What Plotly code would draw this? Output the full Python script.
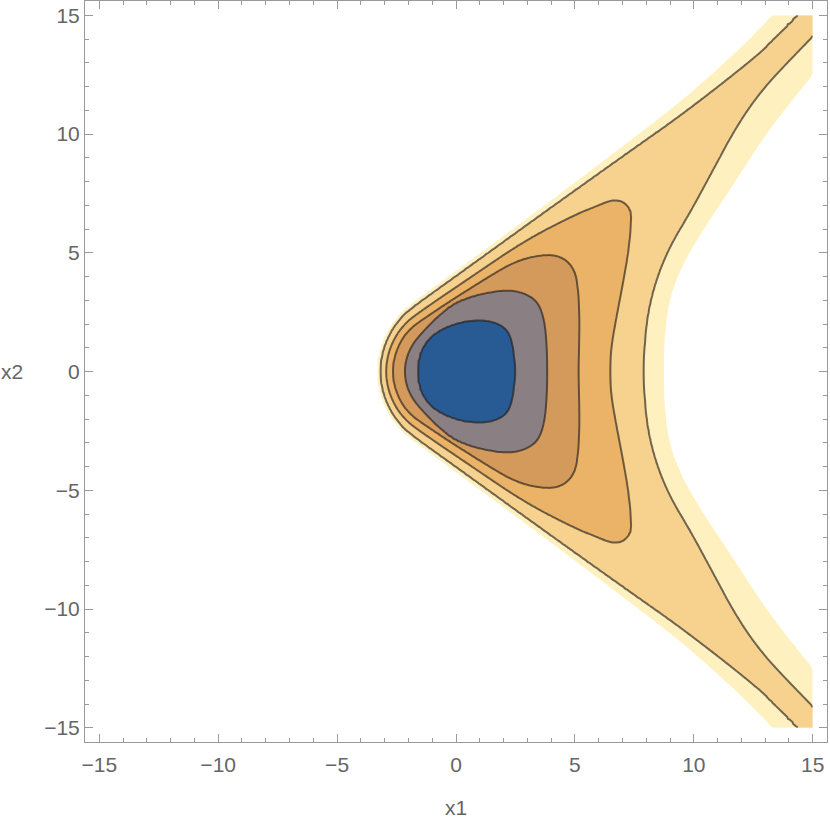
import numpy as np
import plotly.graph_objects as go

# contour curves, upper half only (the plot is mirror symmetric in x2)
# each runs from its x2 = 0 crossing on the right, over the top, to the crossing on the left
c1_x1 = [2.50, 2.48, 2.38, 2.17, 1.75, 1.19, 0.48, -0.22, -0.92, -1.41, -1.58, -1.62]
c1_x2 = [0.00, 0.35, 1.19, 1.75, 2.03, 2.17, 2.14, 1.96, 1.61, 1.05, 0.50, 0.00]

c2_x1 = [3.84, 3.82, 3.72, 3.44, 2.88, 2.17, 1.19, 0.50, -0.22, -0.92, -1.55, -1.85, -2.08, -2.17]
c2_x2 = [0.00, 1.05, 2.17, 2.94, 3.30, 3.44, 3.30, 3.12, 2.80, 2.17, 1.50, 1.10, 0.60, 0.00]

c3_x1 = [5.15, 5.18, 5.19, 5.12, 4.98, 4.56, 3.86, 2.59, 1.26, -1.53, -2.00, -2.34, -2.59, -2.68]
c3_x2 = [0.00, 1.20, 2.45, 3.58, 4.28, 4.77, 4.95, 4.70, 3.93, 2.12, 1.73, 1.27, 0.65, 0.00]

c4_x1 = [6.48, 6.52, 6.75, 7.05, 7.27, 7.37, 7.33, 7.15, 6.85, 6.46, 5.89, 5.05, 2.94, 0.56,
         -1.69, -2.18, -2.57, -2.86, -2.96]
c4_x2 = [0.00, 1.00, 2.30, 3.86, 5.20, 6.45, 6.75, 7.05, 7.20, 7.19, 6.95, 6.62, 5.54, 3.93,
         2.40, 1.98, 1.45, 0.75, 0.00]

c5_x1 = [7.89, 7.93, 8.07, 8.42, 8.99, 9.83, 10.50, 11.94, 13.34, 15.00, 17.50,
         14.27, 13.50, 12.64, 9.83, 7.02, 3.65, -0.15, -1.81, -2.31, -2.76, -3.10, -3.21]
c5_x2 = [0.00, 1.05, 2.45, 3.86, 5.26, 6.67, 7.90, 10.60, 12.43, 14.00, 17.50,
         15.00, 14.10, 13.28, 11.06, 9.08, 6.67, 3.92, 2.73, 2.29, 1.68, 0.87, 0.00]

c6_x1 = [8.71, 8.78, 8.99, 9.55, 10.39, 11.52, 13.06, 14.61, 15.00, 19.00,
         13.20, 12.64, 9.83, 7.02, 3.65, -0.15, -1.90, -2.41, -2.87, -3.20, -3.31]
c6_x2 = [0.00, 1.75, 3.16, 4.56, 5.97, 7.65, 10.04, 12.01, 12.45, 19.50,
         15.00, 14.26, 11.66, 9.48, 6.92, 4.10, 2.82, 2.35, 1.72, 0.88, 0.00]

curves = [(c1_x1, c1_x2), (c2_x1, c2_x2), (c3_x1, c3_x2),
          (c4_x1, c4_x2), (c5_x1, c5_x2), (c6_x1, c6_x2)]

# band fills from the centre outwards; the last one is the clipped area
band_colors = ["#285a94", "#8a7f82", "#d49a5c", "#ebb368", "#f7d28e", "#fff0c0", "#ffffff"]
centre_x1 = 0.5

g = np.linspace(-15, 15, 401)
X, Y = np.meshgrid(g, g)
TH = np.arctan2(np.abs(Y), X - centre_x1)
R = np.hypot(X - centre_x1, Y)


def smooth(x1, x2, passes=2):
    # corner cutting so the traced polylines come out as smooth curves;
    # the ends are mirrored across x2 = 0 first so the curve crosses it square
    x1 = [x1[1]] + list(x1) + [x1[-2]]
    x2 = [-x2[1]] + list(x2) + [-x2[-2]]
    p = np.column_stack([x1, x2]).astype(float)
    for _ in range(passes):
        q = 0.75 * p[:-1] + 0.25 * p[1:]
        r = 0.25 * p[:-1] + 0.75 * p[1:]
        mid = np.empty((2 * len(q), 2))
        mid[0::2] = q
        mid[1::2] = r
        p = np.vstack([p[:1], mid, p[-1:]])
    return p[:, 0], p[:, 1]


def radius_of(x1, x2):
    # radius of one contour curve along each ray from the centre
    x1, x2 = smooth(x1, x2)
    s = np.concatenate([[0], np.cumsum(np.hypot(np.diff(x1), np.diff(x2)))])
    t = np.linspace(0, s[-1], 4000)
    px = np.interp(t, s, x1)
    py = np.interp(t, s, x2)
    ang = np.arctan2(py, px - centre_x1)
    ang = np.where(ang < -np.pi / 2, ang + 2 * np.pi, ang)  # left end dips past pi
    rad = np.hypot(px - centre_x1, py)
    order = np.argsort(ang)
    return np.interp(TH, ang[order], rad[order])


radii = [radius_of(a, b) for a, b in curves]
for k in range(1, len(radii)):
    radii[k] = np.maximum(radii[k], radii[k - 1] + 1e-3)

# level index: k on curve k, linear in between
z = R / radii[0]
for k in range(len(radii) - 1):
    inside = (R >= radii[k]) & (R < radii[k + 1])
    z = np.where(inside, k + 1 + (R - radii[k]) / (radii[k + 1] - radii[k]), z)
z = np.where(R >= radii[-1], np.minimum(6 + (R - radii[-1]) / 2, 7), z)

# flip so the clipped white area is the lowest band (plotly paints the lowest band
# under the whole grid, a white one leaves no edge line)
w = (7 - z).round(4)

fig = go.Figure()

fig.add_trace(go.Contour(
    x=g, y=g, z=w, autocontour=False,
    contours=dict(start=1, end=6, size=1, coloring='fill', showlines=False),
    colorscale=[[i / 6, c] for i, c in enumerate(band_colors[::-1])],
    showscale=False, line=dict(width=0), hoverinfo='skip'
))
fig.add_trace(go.Contour(
    x=g, y=g, z=w, autocontour=False,
    contours=dict(start=2, end=6, size=1, coloring='none'),
    line=dict(color='rgba(35,30,25,0.64)', width=2),
    showscale=False, hoverinfo='skip'
))

axis_style = dict(
    range=[-15.6, 15.6], tickvals=[-15, -10, -5, 0, 5, 10, 15],
    ticks='inside', ticklen=8, tickwidth=1, tickcolor='#9a9a9a',
    showline=True, linecolor='#9a9a9a', linewidth=1, mirror='allticks',
    showgrid=False, zeroline=False,
    minor=dict(ticks='inside', ticklen=4, dtick=1, tick0=0, tickcolor='#9a9a9a', showgrid=False),
    tickfont=dict(size=21, color='#666666'),
)

fig.update_layout(
    width=830, height=826,
    margin=dict(l=85, r=3, t=1, b=84),
    plot_bgcolor='white', paper_bgcolor='white',
    font=dict(family='Liberation Sans, Arial, sans-serif', size=21, color='#666666'),
    xaxis=dict(axis_style, ticklabelstandoff=4),
    yaxis=dict(axis_style, ticklabelstandoff=0),
    showlegend=False,
    annotations=[
        dict(text='x1', x=0, xref='x', y=-0.0884, yref='paper',
             showarrow=False, xanchor='center', yanchor='middle'),
        dict(text='x2', x=-0.0984, xref='paper', y=0, yref='y',
             showarrow=False, xanchor='center', yanchor='middle'),
    ],
)

fig.write_html("out.html", config={'displayModeBar': False},
               post_script="document.body.style.margin = '0px';")
